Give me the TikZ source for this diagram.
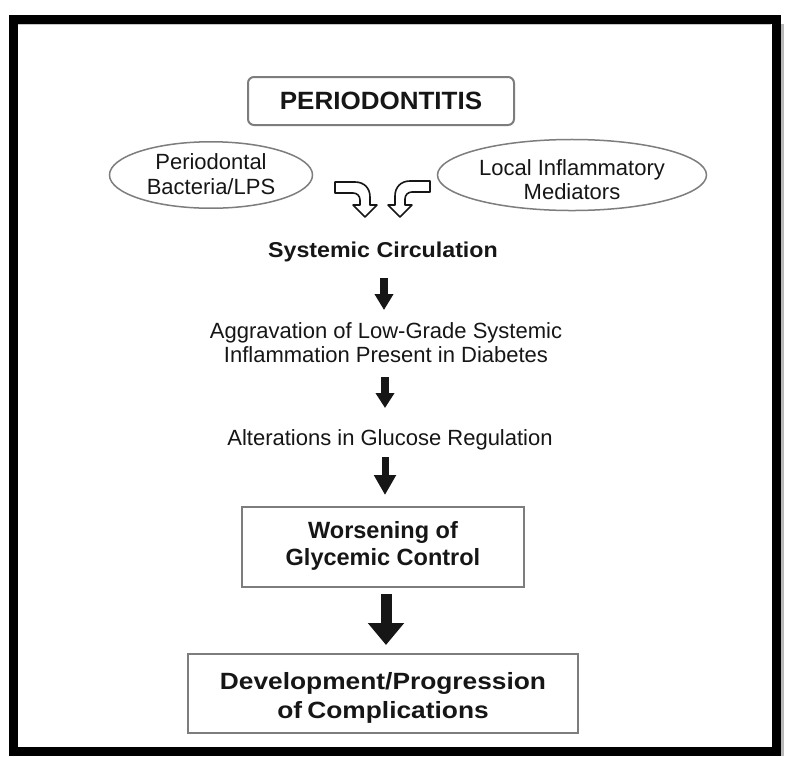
\documentclass[tikz,border=0pt]{standalone}
\usepackage{fontspec}
\setmainfont{Liberation Sans}
\newfontfamily\fa{Liberation Sans}[FakeStretch=1.04]
\newfontfamily\fb{Liberation Sans}[FakeStretch=1.08]
\newfontfamily\fc{Liberation Sans}[FakeStretch=1.12]
\usetikzlibrary{arrows.meta,shapes.geometric}
\newcommand\upstrut[1]{\rule{0pt}{#1pt}}
\newcommand\dnstrut[1]{\rule[-#1pt]{0pt}{0pt}}
\definecolor{edge}{RGB}{125,125,125}
\definecolor{ink}{RGB}{22,22,22}
\tikzset{
  reg/.style={font=\fontsize{22}{25}\selectfont, text=ink, inner sep=0pt, align=center},
  ell/.style={ellipse, draw=edge, line width=1.5pt, inner sep=0pt, reg},
  topbox/.style={draw=edge, line width=2pt, rounded corners=6pt, inner sep=0pt,
     minimum width=266pt, minimum height=48pt, text=ink, font=\fa\bfseries\fontsize{25}{28}\selectfont},
  mbox/.style={draw=edge, line width=2.5pt, inner sep=0pt, align=center, text=ink},
  hollow/.style={draw=ink, fill=white, line width=1.6pt, line join=round},
  blk/.style={line width=#1pt, ink, draw=ink},
}
\begin{document}
\begin{tikzpicture}[x=1pt,y=-1pt]
\useasboundingbox (0,0) rectangle (785,756);
\fill[white] (0,0) rectangle (785,756);
% outer frame
\draw[gray!55, line width=3pt] (782,24) -- (782,756);
\draw[line width=9pt] (13,19) rectangle (776,751);
\draw[gray!45, line width=1pt] (18,24) -- (771,24);

% nodes
\node[topbox] (perio) at (381,101) {PERIODONTITIS};
\node[ell, minimum width=203pt, minimum height=64pt] (bact) at (211,175)
  {\upstrut{18}Periodontal\\Bacteria/LPS\dnstrut{4}};
\node[ell, minimum width=269pt, minimum height=66pt] (local) at (572,175)
  {\upstrut{26}Local Inflammatory\\[-1pt]Mediators};
\node[inner sep=0pt, anchor=base, text=ink, font=\fb\bfseries\fontsize{21.5}{24}\selectfont] (sc) at (383,257)
  {Systemic Circulation};
\node[reg, anchor=base] (agg) at (386,362) {Aggravation of Low-Grade Systemic\\[-1pt]Inflammation Present in Diabetes};
\node[reg, anchor=base] (alt) at (390,445) {Alterations in Glucose Regulation};
\node[mbox, minimum width=282pt, minimum height=80pt, font=\bfseries\fontsize{23.5}{27}\selectfont] (wors) at (383,547)
  {Worsening of\\Glycemic Control\dnstrut{8}};
\node[mbox, minimum width=390pt, minimum height=79pt, font=\fc\bfseries\fontsize{23.5}{29}\selectfont] (dev) at (383,693.5)
  {\upstrut{25}Development/Progression\\of\hspace{-2pt} Complications};

% hollow bent arrows
\draw[hollow] (335,182) -- (355,182) .. controls (364,182) and (370,188) .. (370,197)
  -- (370,205) -- (377,205) -- (365,217) -- (353,205) -- (360,205) -- (360,200)
  .. controls (360,196) and (357,193) .. (353,193) -- (335,193) -- cycle;
\begin{scope}[xshift=765pt, xscale=-1]
\draw[hollow] (335,181) -- (355,181) .. controls (364,181) and (370,187) .. (370,196)
  -- (370,205) -- (377,205) -- (365,217) -- (353,205) -- (360,205) -- (360,199)
  .. controls (360,195) and (357,192) .. (353,192) -- (335,192) -- cycle;
\end{scope}

% solid arrows
\draw[blk=8, -{Triangle[width=18pt,length=16pt]}] ([xshift=1pt]sc.south |- 0,278) -- ([xshift=1pt]sc.south |- 0,310);
\draw[blk=8, -{Triangle[width=18pt,length=15pt]}] ([xshift=-1pt]agg.south |- 0,377) -- ([xshift=-1pt]agg.south |- 0,408);
\draw[blk=7, -{Triangle[width=21pt,length=20pt]}] ([xshift=2pt]wors.north |- 0,457) -- ([xshift=2pt]wors.north |- 0,495);
\draw[blk=11, -{Triangle[width=35pt,length=22pt]}] ([xshift=3pt]wors.south |- 0,594) -- ([xshift=3pt]dev.north |- 0,645);
\end{tikzpicture}
\end{document}
